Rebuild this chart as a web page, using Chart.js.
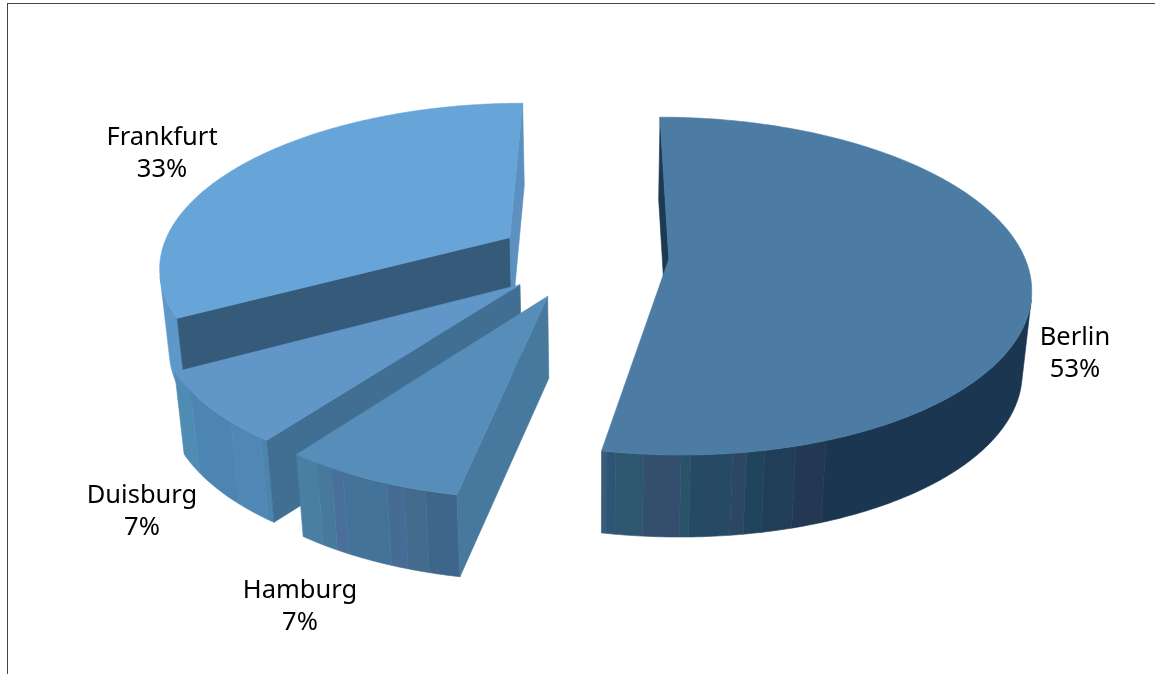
<!DOCTYPE html>
<html>
<head>
<meta charset="utf-8">
<style>
  html, body { margin: 0; padding: 0; background: #fff; overflow: hidden; }
  #frame { position: absolute; left: 7px; top: 3px; width: 1148px; height: 671px; border-left: 1.5px solid #444; border-top: 1.5px solid #444; }
  canvas { position: absolute; left: 0; top: 0; }
</style>
<script src="https://cdn.jsdelivr.net/npm/chart.js@4"></script>
</head>
<body>
<div id="frame"></div>
<canvas id="pie3d" width="1155" height="674"></canvas>
<script>
// Chart data
const cities = ['Berlin', 'Hamburg', 'Duisburg', 'Frankfurt'];
const shares = [53, 7, 7, 33];

// Slice styling
const explode = [92, 72, 76, 80];
const radiusScale = [1, 0.98, 0.98, 0.985];
const sliceShift = [[0, -2], [1, 8], [2, 4], [0, -1]];
const topColors = ['#4c7ca4', '#568eb9', '#6096c8', '#67a5d9'];
const startWallColors = ['#1c3a54', '#47799e', '#416e93', '#365a79'];
const endWallColors = ['#1c3a54', '#47799e', '#416e93', '#5b90c0'];

// Rim colour bands, [right edge on screen, colour]
const rimBands = [
  [[607, '#3a5a7a'], [617, '#2e5577'], [645, '#2f566f'], [682, '#344f6e'], [690, '#2a5268'], [732, '#274a64'],
   [747, '#2d4664'], [763, '#1f445c'], [798, '#213e58'], [827, '#243753'], [9999, '#1b3650']],
  [[317, '#4a7ea3'], [333, '#47799d'], [342, '#4a6f9b'], [385, '#44739a'], [405, '#466b95'], [427, '#446b8d'], [9999, '#3d668a']],
  [[190, '#4f8cb4'], [230, '#4d85b2'], [260, '#5087b4'], [9999, '#4c86ae']],
  [[9999, '#5e98cb']]
];

// Where the two text lines of each label are centred
const labelSpots = [[1075, 354], [300, 607], [142, 512], [162, 154]];

// Camera settings
const vanishX = 605;
const floorCenterX = 598;
const tilt = 0.46;
const perspective = 0.00045;
const depth = 82;
const floorScale = 0.978;

// Project a point on the pie plane, z 0 is the top face and 1 the bottom face
function project(x, y, cx, cy, z) {
    const w = 1 / (1 - perspective * (y - cy));
    const px = vanishX + (x - vanishX) * w;
    const s = 1 - (1 - floorScale) * z;
    return [floorCenterX + (px - floorCenterX) * s, cy + tilt * (y - cy) * w + depth * z];
}

function polygonArea(pts) {
    let sum = 0;
    pts.forEach((p, i) => {
        const q = pts[(i + 1) % pts.length];
        sum += p[0] * q[1] - q[0] * p[1];
    });
    return sum;
}

function fillPolygon(ctx, pts, color) {
    ctx.beginPath();
    pts.forEach((p, i) => i ? ctx.lineTo(p[0], p[1]) : ctx.moveTo(p[0], p[1]));
    ctx.closePath();
    ctx.fillStyle = color;
    ctx.strokeStyle = color;
    ctx.lineWidth = 0.6;
    ctx.fill();
    ctx.stroke();
}

function bandColor(bands, x) {
    return bands.find(b => x <= b[0])[1];
}

function drawSlice(ctx, arc, i) {
    const {x, y, startAngle, endAngle, outerRadius} = arc.getProps(['x', 'y', 'startAngle', 'endAngle', 'outerRadius']);
    const mid = (startAngle + endAngle) / 2;
    const radius = outerRadius * radiusScale[i];
    const ax = x + Math.cos(mid) * arc.options.offset;
    const ay = y + Math.sin(mid) * arc.options.offset;
    const steps = Math.ceil((endAngle - startAngle) * 90);
    const place = (px, py, z) => {
        const p = project(px, py, x, y, z);
        return [p[0] + sliceShift[i][0], p[1] + sliceShift[i][1]];
    };
    const rim = z => {
        const pts = [];
        for (let s = 0; s <= steps; s++) {
            const a = startAngle + (endAngle - startAngle) * s / steps;
            pts.push(place(ax + Math.cos(a) * radius, ay + Math.sin(a) * radius, z));
        }
        return pts;
    };
    const rimTop = rim(0);
    const rimBottom = rim(1);
    const apexTop = place(ax, ay, 0);
    const apexBottom = place(ax, ay, 1);

    // Outer wall, neighbouring facets of one colour are filled as one band
    let bandStart = null;
    let bandFill = null;
    const flush = end => {
        if (bandStart === null) return;
        fillPolygon(ctx, [...rimTop.slice(bandStart, end + 1), ...rimBottom.slice(bandStart, end + 1).reverse()], bandFill);
        bandStart = null;
    };
    for (let s = 0; s < steps; s++) {
        const visible = polygonArea([rimTop[s], rimTop[s + 1], rimBottom[s + 1], rimBottom[s]]) < 0;
        const color = bandColor(rimBands[i], (rimTop[s][0] + rimTop[s + 1][0]) / 2);
        if (!visible || color !== bandFill) flush(s);
        if (visible && bandStart === null) {
            bandStart = s;
            bandFill = color;
        }
    }
    flush(steps);

    // The two cut walls
    const startWall = [apexTop, rimTop[0], rimBottom[0], apexBottom];
    const endWall = [rimTop[steps], apexTop, apexBottom, rimBottom[steps]];
    if (polygonArea(startWall) < 0) fillPolygon(ctx, startWall, startWallColors[i]);
    if (polygonArea(endWall) < 0) fillPolygon(ctx, endWall, endWallColors[i]);

    // Top face
    fillPolygon(ctx, [apexTop, ...rimTop], topColors[i]);
}

const pie3dPlugin = {
    id: 'pie3d',
    beforeDatasetDraw(chart, args) {
        const ctx = chart.ctx;
        const arcs = args.meta.data;
        // back to front
        const order = arcs.map((a, i) => i).sort((p, q) =>
            Math.sin((arcs[p].startAngle + arcs[p].endAngle) / 2) - Math.sin((arcs[q].startAngle + arcs[q].endAngle) / 2));
        ctx.save();
        ctx.lineJoin = 'round';
        order.forEach(i => drawSlice(ctx, arcs[i], i));
        ctx.restore();
        return false;
    },
    afterDatasetsDraw(chart) {
        const ctx = chart.ctx;
        const total = shares.reduce((acc, v) => acc + v, 0);
        ctx.save();
        ctx.font = '25.5px "Noto Sans"';
        ctx.fillStyle = '#000';
        ctx.textAlign = 'center';
        ctx.textBaseline = 'middle';
        cities.forEach((city, i) => {
            ctx.fillText(city, labelSpots[i][0], labelSpots[i][1] - 16);
            ctx.fillText(Math.round(shares[i] / total * 100) + '%', labelSpots[i][0], labelSpots[i][1] + 16);
        });
        ctx.restore();
    }
};

new Chart(document.getElementById('pie3d'), {
    type: 'pie',
    data: {
        labels: cities,
        datasets: [{
            data: shares,
            backgroundColor: topColors,
            offset: explode,
            radius: 355,
            borderWidth: 0
        }]
    },
    options: {
        responsive: false,
        animation: false,
        layout: { padding: { right: 1, bottom: 160 } },
        plugins: { legend: { display: false } }
    },
    plugins: [pie3dPlugin]
});
</script>
</body>
</html>
